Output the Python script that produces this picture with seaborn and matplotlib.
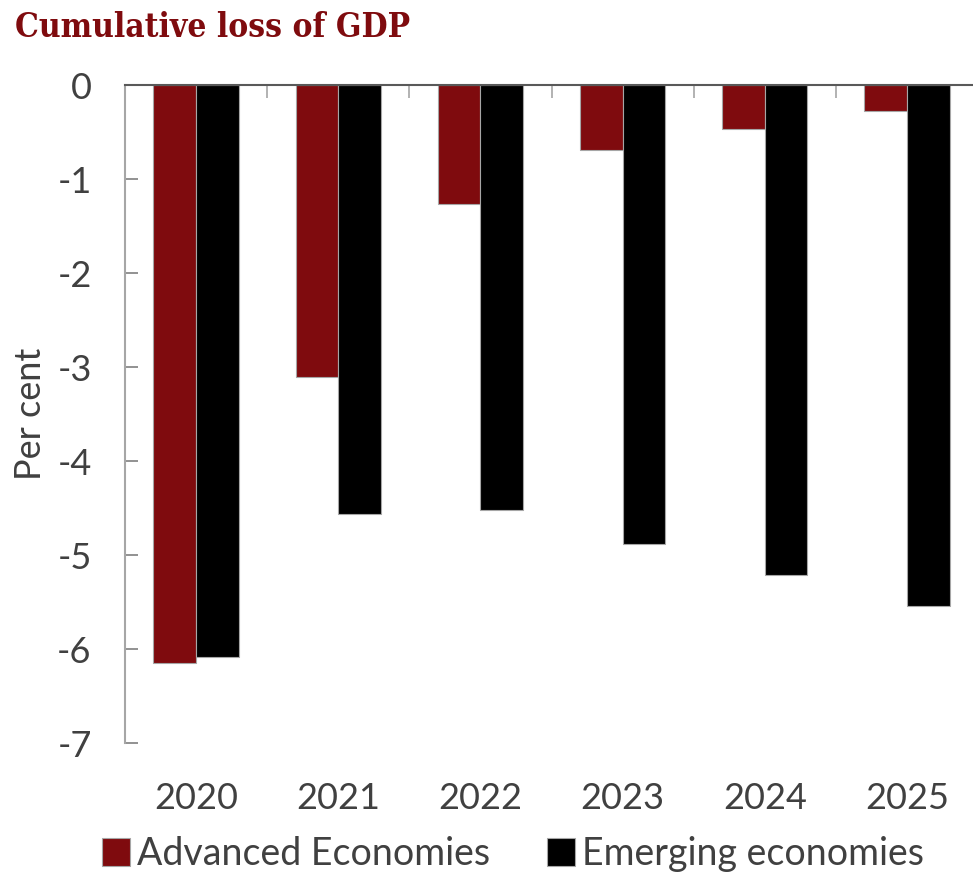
import matplotlib
matplotlib.use("Agg")
import matplotlib.pyplot as plt
from matplotlib.ticker import FixedLocator
import seaborn as sns
import pandas as pd

years = ["2020", "2021", "2022", "2023", "2024", "2025"]
advanced = [-6.15, -3.11, -1.27, -0.69, -0.47, -0.28]
emerging = [-6.08, -4.56, -4.52, -4.88, -5.21, -5.54]
series_names = ["Advanced Economies", "Emerging economies"]
colors = ["#7f0b0e", "#000000"]

df = pd.DataFrame({
    "year": years * 2,
    "value": advanced + emerging,
    "series": [series_names[0]] * len(years) + [series_names[1]] * len(years),
})

sns.set_theme(style="white")
plt.rcParams["font.family"] = ["Lato", "DejaVu Sans"]

W, H = 973, 872
fig = plt.figure(figsize=(W / 100, H / 100), dpi=100)
ax = fig.add_axes([125 / W, (H - 743) / H, 853 / W, 658 / H])

sns.barplot(data=df, x="year", y="value", hue="series", palette=colors,
            width=0.6, gap=0, edgecolor="#a6a6a6", linewidth=0.8,
            saturation=1, ax=ax, legend=True)

ax.set_ylim(-7, 0)
ax.set_xlim(-0.5, 5.5)
ax.set_yticks(range(-7, 1))
ax.set_yticklabels([str(v) for v in range(-7, 1)])

text_color = "#404040"
for side in ["bottom", "right"]:
    ax.spines[side].set_visible(False)
ax.spines["left"].set_color("#a6a6a6")
ax.spines["left"].set_linewidth(1.5)
ax.spines["top"].set_color("#595959")
ax.spines["top"].set_linewidth(1.5)

ax.tick_params(axis="y", direction="in", length=9, width=1.2, color="#7f7f7f",
               labelsize=26, labelcolor=text_color, pad=24, left=True)
ax.xaxis.set_minor_locator(FixedLocator([0.5, 1.5, 2.5, 3.5, 4.5]))
ax.tick_params(axis="x", which="minor", top=True, bottom=False, direction="in",
               length=9, width=1.2, color="#a6a6a6")
ax.tick_params(axis="x", which="major", length=0, labelsize=26,
               labelcolor=text_color, pad=28)

ax.set_xlabel("")
ax.set_ylabel("Per cent", fontsize=26, color=text_color, labelpad=2)
ax.yaxis.set_label_coords(-78 / 853, 0.5)

handles, labels = ax.get_legend_handles_labels()
ax.legend_.remove()
fig.legend(handles, labels, loc="center", bbox_to_anchor=(513 / W, 1 - 854 / H),
           ncol=2, frameon=False, fontsize=27, labelcolor=text_color,
           handlelength=0.75, handleheight=0.75, handletextpad=0.2,
           columnspacing=1.5, borderaxespad=0)

fig.text(15 / W, 1 - 37 / H, "Cumulative loss of GDP", fontsize=24,
         fontweight="bold", color="#7f0b0e", va="baseline", ha="left",
         family=["DejaVu Serif"], fontstretch="condensed")

fig.savefig("out.png", dpi=100)
